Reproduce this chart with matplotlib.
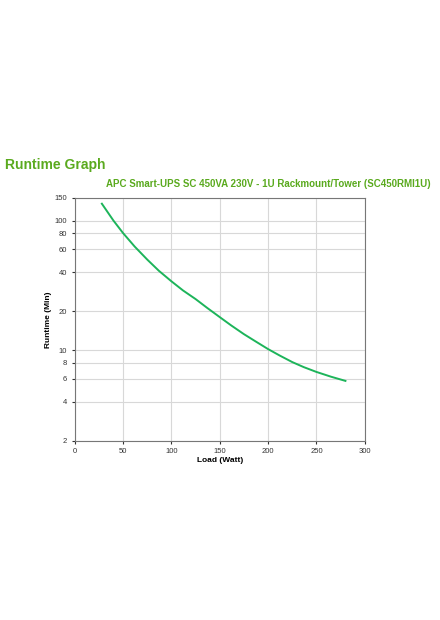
import matplotlib.pyplot as plt
from matplotlib.ticker import FixedLocator, NullLocator, FixedFormatter

plt.rcParams["font.family"] = ["Liberation Sans", "DejaVu Sans"]

load_w = [28, 40, 50, 62, 75, 87, 100, 112, 125, 137, 150, 162, 175, 187, 200, 212, 225, 237, 250, 265, 280]
runtime_min = [135, 100, 80, 63, 50, 41, 34, 28.9, 24.8, 21.2, 18.0, 15.5, 13.3, 11.7, 10.2, 9.1, 8.1, 7.4, 6.8, 6.25, 5.8]

y_ticks = [2, 4, 6, 8, 10, 20, 40, 60, 80, 100, 150]
x_ticks = [0, 50, 100, 150, 200, 250, 300]

green = "#5aaa1e"
line_green = "#1db45a"

fig = plt.figure(figsize=(4.4, 6.2), dpi=100)
fig.text(0.012, 0.728, "Runtime Graph", color=green, fontsize=10, fontweight="bold")
fig.text(0.978, 0.698, "APC Smart-UPS SC 450VA 230V - 1U Rackmount/Tower (SC450RMI1U)",
         color=green, fontsize=7, fontweight="bold", ha="right")

ax = fig.add_axes([0.170, 0.289, 0.659, 0.392])
ax.plot(load_w, runtime_min, color=line_green, lw=1.4)
ax.set_yscale("log")
ax.set_xlim(0, 300)
ax.set_ylim(2, 150)
ax.yaxis.set_major_locator(FixedLocator(y_ticks))
ax.yaxis.set_major_formatter(FixedFormatter([str(t) for t in y_ticks]))
ax.yaxis.set_minor_locator(NullLocator())
ax.set_xticks(x_ticks)
ax.grid(True, color="#d8d8d8", lw=0.8)
ax.tick_params(labelsize=5.5, length=2, colors="#333333")
for s in ax.spines.values():
    s.set_color("#777777")
ax.set_xlabel("Load (Watt)", fontsize=6, fontweight="bold", labelpad=1)
ax.set_ylabel("Runtime (Min)", fontsize=6, fontweight="bold", labelpad=2)

fig.savefig("out.png", dpi=100)
